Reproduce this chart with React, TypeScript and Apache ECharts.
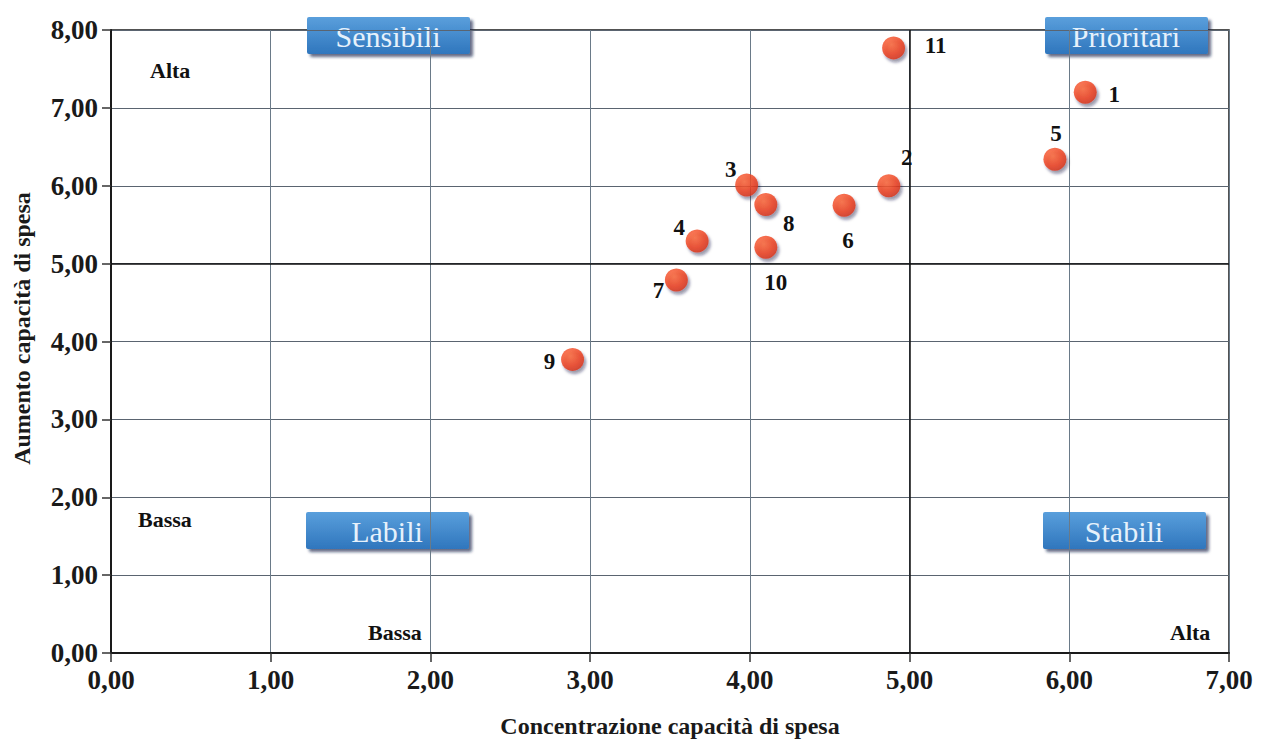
import React, { useEffect, useRef } from "react";
import * as echarts from "echarts";

// Province codes and their two indicators
const pointIds = ["1", "2", "3", "4", "5", "6", "7", "8", "9", "10", "11"];
const concentrazione = [6.1, 4.87, 3.98, 3.67, 5.91, 4.59, 3.54, 4.1, 2.89, 4.1, 4.9];
const aumento = [7.2, 6.0, 6.01, 5.29, 6.34, 5.75, 4.79, 5.76, 3.77, 5.21, 7.77];

// Label placement around each dot (pixels from the dot centre)
const labelOffsets: [number, number][] = [
  [29, 2], [18, -28], [-16, -15], [-18, -14], [1, -26], [4, 35],
  [-18, 11], [23, 19], [-23, 2], [10, 35], [42, -2],
];

// Quadrant names
const quadrants = [
  { text: "Sensibili", x: 307, y: 17 },
  { text: "Prioritari", x: 1045, y: 17 },
  { text: "Labili", x: 306, y: 512 },
  { text: "Stabili", x: 1043, y: 512 },
];

const cornerNotes = [
  { text: "Alta", x: 150, y: 70 },
  { text: "Bassa", x: 138, y: 519 },
  { text: "Bassa", x: 368, y: 632 },
  { text: "Alta", x: 1170, y: 632 },
];

const SERIF = "'Liberation Serif', 'DejaVu Serif', serif";

export default function App() {
  const ref = useRef<HTMLDivElement>(null);

  useEffect(() => {
    if (!ref.current) return;
    const chart = echarts.init(ref.current, null, { renderer: "svg" });

    const dotColor = new echarts.graphic.RadialGradient(0.4, 0.35, 0.7, [
      { offset: 0, color: "#ff6a3a" },
      { offset: 0.6, color: "#f0401a" },
      { offset: 1, color: "#d2300e" },
    ]);

    const boxGradient = new echarts.graphic.LinearGradient(0, 0, 0, 1, [
      { offset: 0, color: "#5a9fdc" },
      { offset: 1, color: "#2f76bd" },
    ]);

    const graphic: any[] = [];
    quadrants.forEach((q) => {
      graphic.push({
        type: "group",
        x: q.x,
        y: q.y,
        z: 100,
        children: [
          {
            type: "rect",
            shape: { x: 0, y: 0, width: 163, height: 37, r: 2 },
            style: {
              fill: boxGradient,
              shadowColor: "rgba(10,30,70,0.65)",
              shadowBlur: 3,
              shadowOffsetX: 3,
              shadowOffsetY: 3,
            },
          },
          {
            type: "text",
            x: 81,
            y: 19,
            style: {
              text: q.text,
              fill: "#e6f1fb",
              font: `30px ${SERIF}`,
              align: "center",
              verticalAlign: "middle",
            },
          },
        ],
      });
    });
    cornerNotes.forEach((c) => {
      graphic.push({
        type: "text",
        x: c.x,
        y: c.y,
        z: 100,
        style: {
          text: c.text,
          fill: "#111",
          font: `bold 22px ${SERIF}`,
          verticalAlign: "middle",
        },
      });
    });

    const fmt = (v: number) => v.toFixed(2).replace(".", ",");

    chart.setOption({
      animation: false,
      backgroundColor: "#ffffff",
      grid: {
        left: 111,
        right: 34,
        top: 30,
        bottom: 90,
        show: true,
        borderColor: "#1a1a1a",
        borderWidth: 1.5,
      },
      xAxis: {
        type: "value",
        min: 0,
        max: 7,
        interval: 1,
        name: "Concentrazione capacità di spesa",
        nameLocation: "middle",
        nameGap: 61,
        nameTextStyle: { fontFamily: SERIF, fontWeight: "bold", fontSize: 24, color: "#1a1a1a" },
        axisLine: { lineStyle: { color: "#1a1a1a", width: 2 } },
        axisTick: { show: true, length: 9, lineStyle: { color: "#333", width: 1.5 } },
        axisLabel: {
          margin: 13,
          formatter: fmt,
          fontFamily: SERIF,
          fontWeight: "bold",
          fontSize: 27,
          color: "#1a1a1a",
        },
        splitLine: { show: true, lineStyle: { color: "#6a7a88", width: 1 } },
      },
      yAxis: {
        type: "value",
        min: 0,
        max: 8,
        interval: 1,
        name: "Aumento capacità di spesa",
        nameLocation: "middle",
        nameGap: 77,
        nameTextStyle: {
          fontFamily: SERIF,
          fontWeight: "bold",
          fontSize: 24,
          color: "#1a1a1a",
          padding: [0, 0, 0, 26],
        },
        axisLine: { show: true, lineStyle: { color: "#1a1a1a", width: 2 } },
        axisTick: { show: true, length: 9, lineStyle: { color: "#333", width: 1.5 } },
        axisLabel: {
          margin: 13,
          formatter: fmt,
          fontFamily: SERIF,
          fontWeight: "bold",
          fontSize: 27,
          color: "#1a1a1a",
        },
        splitLine: { show: true, lineStyle: { color: "#5a6470", width: 1 } },
      },
      series: [
        {
          type: "scatter",
          symbol: "circle",
          symbolSize: 23,
          z: 10,
          data: pointIds.map((id, i) => ({
            name: id,
            value: [concentrazione[i], aumento[i]],
            label: { offset: labelOffsets[i] },
          })),
          itemStyle: {
            color: dotColor,
            shadowColor: "rgba(20,20,60,0.55)",
            shadowBlur: 3,
            shadowOffsetX: 2,
            shadowOffsetY: 3,
          },
          label: {
            show: true,
            position: "inside",
            formatter: (p: any) => p.name,
            fontFamily: SERIF,
            fontWeight: "bold",
            fontSize: 23,
            color: "#111111",
            textBorderWidth: 0,
            textBorderColor: "transparent",
            opacity: 1,
          },
          markLine: {
            silent: true,
            symbol: "none",
            label: { show: false },
            lineStyle: { color: "#111", width: 1.5, type: "solid" },
            data: [{ xAxis: 5 }, { yAxis: 5 }],
            z: 5,
          },
        },
      ],
      graphic,
    });

    return () => chart.dispose();
  }, []);

  return (
    <div
      ref={ref}
      style={{ position: "fixed", left: 0, top: 0, width: 1263, height: 743 }}
    />
  );
}
